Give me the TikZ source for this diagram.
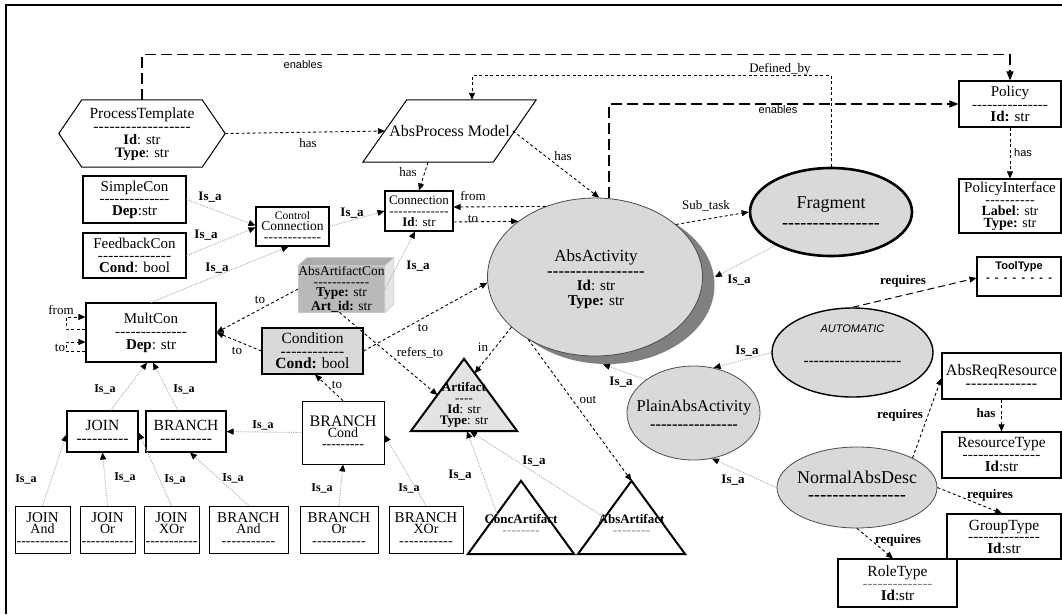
\documentclass[tikz,border=0pt]{standalone}
\usepackage{fontspec}
\setmainfont{Liberation Serif}
\setsansfont{Liberation Sans}
\usetikzlibrary{arrows.meta,shapes.geometric,calc}

% a row of hyphens filling the given width (optional extra spacing per hyphen)
\newcommand\dashrow[2][0pt]{\hbox to #2{\xleaders\hbox{\kern#1-\kern#1}\hfill}}
\newcommand\fs[2]{\fontsize{#1}{#2}\selectfont}

\tikzset{
  box/.style={draw, line width=1.1pt, fill=white, inner sep=0pt, align=center, font=\fs{15}{12.5}},
  ell/.style={ellipse, draw, fill=gray!30, inner sep=0pt},
  txt/.style={inner sep=0pt, align=center},
  arr/.style={-{Triangle[length=7pt,width=6pt]}},
  isa/.style={draw=gray!60, line width=0.9pt, dash pattern=on 1.2pt off 1.2pt,
              -{Triangle[length=7pt,width=6pt,color=black]}},
  sdash/.style={line width=0.9pt, dash pattern=on 3pt off 2.5pt, arr},
  mdash/.style={line width=1pt, dash pattern=on 7pt off 4pt, arr},
  ldash/.style={line width=1.3pt, dash pattern=on 11pt off 5pt, -{Triangle[length=9pt,width=7pt]}},
  lab/.style={inner sep=1pt, font=\fs{13}{13}},
  blab/.style={inner sep=1pt, font=\bfseries\fs{13}{13}},
  sblab/.style={inner sep=1pt, font=\bfseries\fs{12}{12}},
  slab/.style={inner sep=1pt, font=\sffamily\fs{11}{11}},
}

\begin{document}
\begin{tikzpicture}[x=1pt,y=-1pt]
\useasboundingbox (0,0) rectangle (1062,614);
\fill[white] (0,0) rectangle (1062,614);
\draw[line width=2.5pt] (6,614) -- (6,5) -- (1062,5);

% ---------- ProcessTemplate (hexagon) and AbsProcess Model (parallelogram)
\node[txt, minimum width=166pt, minimum height=67pt, font=\fs{14.5}{13}] (pt) at (142,134.5)
  {\fs{15.5}{14}ProcessTemplate\\ \fs{15.5}{14}\dashrow{98pt}\\ \textbf{Id}: str\\ \textbf{Type}: str};
\draw[line width=1pt] ([xshift=23pt,yshift=1pt]pt.north west) -- ([xshift=-23pt,yshift=1pt]pt.north east)
  -- ([yshift=1pt]pt.east) -- ([xshift=-23pt,yshift=1pt]pt.south east)
  -- ([xshift=23pt,yshift=1pt]pt.south west) -- ([yshift=1pt]pt.west) -- cycle;

\node[txt, minimum width=173pt, minimum height=62pt, font=\fs{16}{16}] (apm) at (449.5,131) {AbsProcess Model};
\draw[line width=1pt] ([xshift=44pt]apm.north west) -- (apm.north east)
  -- ([xshift=-43pt]apm.south east) -- (apm.south west) -- cycle;

% ---------- right column
\node[box, minimum width=102pt, minimum height=46pt] (policy) at (1010,104)
  {Policy\\ \dashrow{76pt}\\ \textbf{Id:} str};
\node[box, minimum width=102pt, minimum height=54pt, font=\fs{14}{11.5}] (pint) at (1010,206)
  {\fs{15}{11}PolicyInterface\\ \dashrow{50pt}\\ \textbf{Label}: str\\ \textbf{Type:} str};
\node[box, minimum width=84pt, minimum height=39pt] (tool) at (1019,276.5) {};
\node[txt, font=\sffamily\bfseries\fs{11}{11}] (toolt) at (1019,272) {ToolType\\[1pt] \dashrow[2.2pt]{72pt}};
\node[box, minimum width=119pt, minimum height=46pt, font=\fs{16}{13}] (areq) at (1001.5,376)
  {AbsReqResource\\ \dashrow{72pt}};
\node[box, minimum width=119pt, minimum height=46pt, font=\fs{15}{12}] (rtype) at (1001.5,455)
  {\fs{15.5}{12}ResourceType\\ \dashrow{78pt}\\ \textbf{Id}:str};
\node[box, minimum width=114pt, minimum height=45pt, font=\fs{15}{11.5}] (gtype) at (1004,536.5)
  {\fs{15.5}{11.5}GroupType\\ \dashrow{72pt}\\ \textbf{Id}:str};
\node[box, minimum width=119pt, minimum height=48pt, font=\fs{15}{12}] (role) at (897.5,583)
  {\fs{15.5}{12}RoleType\\ {\color{gray}\dashrow{70pt}}\\ \textbf{Id}:str};

% ---------- ellipses
\node[ell, line width=2.6pt, minimum width=162pt, minimum height=88pt] (frag) at (831,212) {};
\node[txt, font=\fs{18}{20}] (fragt) at (831,213) {Fragment\\ \textbf{\dashrow{98pt}}};

\node[ell, draw=none, fill=black!50, minimum width=215pt, minimum height=158pt] (aash) at (607,285) {};
\node[ell, draw=gray!60!black, line width=0.8pt, minimum width=215pt, minimum height=158pt] (aa) at (595,277) {};
\node[txt, font=\fs{15}{14.5}] (aat) at (596,279)
  {\fs{17}{16}AbsActivity\\ \fs{17}{16}\textbf{\dashrow{98pt}}\\ \textbf{Id}: str\\ \textbf{Type:} str};

\node[ell, line width=1.4pt, minimum width=161pt, minimum height=89pt] (auto) at (852.5,352.5) {};
\node[txt, font=\bfseries\fs{15}{15}] (autot) at (852.5,345)
  {\sffamily\mdseries\itshape\fs{11}{11}AUTOMATIC\\[18pt] \dashrow{98pt}};

\node[ell, draw=gray!60!black, line width=0.8pt, minimum width=133pt, minimum height=94pt] (plain) at (693.5,413) {};
\node[txt, font=\fs{16.5}{18}] (plaint) at (694,415) {PlainAbsActivity\\ \textbf{\dashrow{88pt}}};

\node[ell, draw=gray!60!black, line width=0.8pt, minimum width=160pt, minimum height=81pt] (nad) at (857,487.5) {};
\node[txt, font=\fs{18}{17}] (nadt) at (857,486) {NormalAbsDesc\\ \textbf{\dashrow{98pt}}};

% ---------- connection classes
\node[box, minimum width=68pt, minimum height=40pt, font=\fs{13}{11}] (conn) at (419,211)
  {Connection\\ \dashrow{60pt}\\ \textbf{Id}: str};
\node[box, minimum width=73pt, minimum height=39pt, font=\fs{13.5}{11}] (ctrl) at (292.5,226.5)
  {\fs{11.5}{9}Control\\ Connection\\ \dashrow{58pt}};
\node[box, minimum width=103pt, minimum height=47pt, font=\fs{15}{12}] (simple) at (134.5,199.5)
  {SimpleCon\\ \dashrow{70pt}\\ \textbf{Dep}:str};
\node[box, minimum width=103pt, minimum height=45pt, font=\fs{15}{12}] (feedback) at (134.5,255.5)
  {FeedbackCon\\ \dashrow{74pt}\\ \textbf{Cond}: bool};
\node[box, minimum width=130pt, minimum height=59pt, font=\fs{15}{13}] (multcon) at (151,332.5)
  {MultCon\\ \dashrow{72pt}\\ \textbf{Dep}: str};
\node[box, fill=gray!30, minimum width=101pt, minimum height=46pt, font=\fs{15.5}{12.5}] (cond) at (312.5,351)
  {Condition\\ \dashrow{64pt}\\ \textbf{Cond:} bool};

% AbsArtifactCon as a 3-D block
\node[box, draw=gray!45, line width=0.6pt, fill=gray!55, minimum width=85pt, minimum height=46pt,
      font=\fs{13.5}{10.8}] (aac) at (341.5,289)
  {AbsArtifactCon\\ \dashrow{56pt}\\ \textbf{Type:} str\\ \textbf{Art\_id:} str};
\draw[draw=gray!45, line width=0.6pt, fill=gray!65] (aac.north west) -- ++(9,-8)
  -- ([xshift=9pt,yshift=8pt]aac.north east) -- (aac.north east) -- cycle;
\draw[draw=gray!45, line width=0.6pt, fill=gray!20] (aac.north east) -- ++(9,-8)
  -- ([xshift=9pt,yshift=8pt]aac.south east) -- (aac.south east) -- cycle;

% ---------- JOIN / BRANCH hierarchy
\node[box, minimum width=71pt, minimum height=41pt, font=\fs{15.5}{13}] (join) at (102.5,431.5) {JOIN\\ \dashrow{52pt}};
\node[box, minimum width=80pt, minimum height=41pt, font=\fs{15.5}{13}] (branch) at (186,431.5) {BRANCH\\ \dashrow{52pt}};
\node[box, line width=0.8pt, minimum width=82pt, minimum height=63pt, font=\fs{14}{11}] (bcond) at (343,432.5)
  {\fs{16}{12}BRANCH\\ Cond\\ \dashrow{42pt}};

\tikzset{leaf/.style={box, line width=0.9pt, minimum height=47pt, font=\fs{14}{11}}}
\node[leaf, minimum width=55pt] (jand) at (42.5,529.5) {\fs{15}{12}JOIN\\ And\\[1pt] \dashrow{52pt}};
\node[leaf, minimum width=55pt] (jor) at (107.5,529.5) {\fs{15}{12}JOIN\\ Or\\[1pt] \dashrow{52pt}};
\node[leaf, minimum width=55pt] (jxor) at (171.5,529.5) {\fs{15}{12}JOIN\\ XOr\\[1pt] \dashrow{52pt}};
\node[leaf, minimum width=79pt] (band) at (248.5,529.5) {\fs{15}{12}BRANCH\\ And\\[1pt] \dashrow{54pt}};
\node[leaf, minimum width=78pt] (bor) at (339,529.5) {\fs{15}{12}BRANCH\\ Or\\[1pt] \dashrow{54pt}};
\node[leaf, minimum width=74pt] (bxor) at (426,529.5) {\fs{15}{12}BRANCH\\ XOr\\[1pt] \dashrow{54pt}};

% ---------- artifacts (triangles)
\node[txt, minimum width=106pt, minimum height=72pt] (art) at (464,395) {};
\draw[line width=2pt, fill=gray!22] (art.south west) -- (art.north) -- (art.south east) -- cycle;
\node[txt, font=\fs{13}{11}] (artt) at (464,405)
  {\textbf{Artifact}\\ \dashrow{18pt}\\ \textbf{Id}: str\\ \textbf{Type}: str};

\node[txt, minimum width=106pt, minimum height=73pt] (conc) at (521,517.5) {};
\draw[line width=2pt] (conc.south west) -- (conc.north) -- (conc.south east) -- cycle;
\node[txt, font=\fs{13}{11}] (conct) at (521,524) {\textbf{ConcArtifact}\\ {\color{gray}\dashrow{38pt}}};

\node[txt, minimum width=107pt, minimum height=73pt] (abart) at (631.5,517.5) {};
\draw[line width=2pt] (abart.south west) -- (abart.north) -- (abart.south east) -- cycle;
\node[txt, font=\fs{13}{11}] (abartt) at (631.5,524) {\textbf{AbsArtifact}\\ {\color{gray}\dashrow{38pt}}};

% ---------- long "enables" and "Defined_by" links
\draw[ldash] (pt.north) ++(0,-1) -- ++(0,-45) -| (policy.north);
\node[slab] (l1) at (303,65) {enables};
\draw[ldash] (aa.80) |- (policy.west);
\node[slab] (l2) at (778,110) {enables};
\draw[sdash] (frag.north) -- ++(0,-91) -| ([xshift=22.5pt]apm.north);
\node[lab] (l3) at (780,69) {Defined\_by};
\draw[sdash] (policy.south) -- (pint.north);
\node[slab] (l4) at (1023,153) {has};

% ---------- process model links
\draw[sdash] ([yshift=1pt]pt.east) -- ([xshift=22pt]apm.west);
\node[lab] (l5) at (308,143) {has};
\draw[sdash] ([xshift=-21.5pt]apm.south) -- (conn.north);
\node[lab] (l6) at (408,172) {has};
\draw[sdash] ([xshift=63.5pt]apm.center) -- (aa.87);
\node[lab] (l7) at (563,156) {has};
\draw[sdash] (aa.125) -- ([yshift=4pt]conn.east);
\node[lab] (l8) at (473,196) {from};
\draw[sdash] ([yshift=-11pt]conn.east) -- (aa.144);
\node[lab] (l9) at (473,219) {to};

% ---------- connection hierarchy
\draw[isa] (ctrl.east) -- (conn.west);
\node[blab] (l10) at (352,213) {Is\_a};
\draw[isa] (simple.east) -- ([yshift=1pt]ctrl.west);
\node[blab] (l11) at (210,197) {Is\_a};
\draw[isa] (feedback.east) -- ([yshift=-1pt]ctrl.west);
\node[blab] (l12) at (206,235) {Is\_a};
\draw[isa] (multcon.north) -- ([xshift=-4pt]ctrl.south);
\node[blab] (l13) at (217,268) {Is\_a};
\draw[isa] (aac.east) -- ([xshift=-4pt]conn.south);
\node[blab] (l14) at (418,266) {Is\_a};

\draw[sdash] (aac.west) -- (multcon.east);
\node[lab] (l15) at (260,300) {to};
\draw[sdash] (cond.west) -- (multcon.east);
\node[lab] (l16) at (237,351) {to};
\draw[sdash] (cond.east) -- (aa.183);
\node[lab] (l17) at (423,328) {to};
\draw[sdash] ([xshift=-2pt]aac.south) -- ($(art.south west)!0.5!(art.north)$);
\node[lab] (l18) at (420,353) {refers\_to};

% MultCon self loops
\draw[sdash] ([yshift=3.5pt]multcon.west) -- ++(-19,0) -- ++(0,-12) -- ([yshift=15.5pt]multcon.west);
\node[lab] (l19) at (61,310) {from};
\draw[sdash] ([yshift=-18.5pt]multcon.west) -- ++(-19,0) -- ++(0,-9) -- ([yshift=-9.5pt]multcon.west);
\node[lab] (l20) at (60,348) {to};

% ---------- activity links
\draw[sdash] (aa.211) -- ($(art.north)!0.2!(art.south east)$);
\node[lab] (l21) at (483,347) {in};
\draw[sdash] (aa.223) -- (abart.north);
\node[lab] (l22) at (588,400) {out};
\draw[sdash] (aa.33) -- (frag.west);
\node[lab] (l23) at (706,206) {Sub\_task};
\draw[isa] (frag.211) -- ([xshift=12pt]aa.east);
\node[blab] (l24) at (739,280) {Is\_a};

\draw[mdash] (auto.north) -- ([yshift=-1.5pt]tool.west);
\node[blab] (l25) at (903,281) {requires};
\draw[isa] (auto.west) -- (plain.66);
\node[blab] (l26) at (747,351) {Is\_a};
\draw[isa] (plain.145) -- ([xshift=8pt,yshift=-8pt]aa.south);
\node[blab] (l27) at (621,382) {Is\_a};
\draw[isa] (nad.west) -- (plain.-68);
\node[blab] (l28) at (733,480) {Is\_a};

\draw[sdash] (nad.28) -- ([yshift=-2pt]areq.west);
\node[blab] (l29) at (900,415) {requires};
\draw[sdash] (areq.south) -- (rtype.north);
\node[blab] (l30) at (986,413) {has};
\draw[sdash] (nad.east) -- ([xshift=-2pt]gtype.north);
\node[blab] (l31) at (990,495) {requires};
\draw[sdash] (nad.south) -- ([xshift=-4.5pt]role.north);
\node[blab] (l32) at (898,540) {requires};

% ---------- JOIN / BRANCH links
\draw[sdash] (bcond.north) -- ([xshift=2.5pt]cond.south);
\node[lab] (l33) at (337,385) {to};
\draw[isa] (bcond.west) -- (branch.east);
\node[sblab] (l34) at (263,425) {Is\_a};
\draw[isa] ([xshift=8pt]join.north) -- ([xshift=-4pt]multcon.south);
\node[sblab] (l35) at (105,389) {Is\_a};
\draw[isa] ([xshift=-8pt]branch.north) -- ([xshift=2pt]multcon.south);
\node[sblab] (l36) at (184,389) {Is\_a};
\draw[isa] (jand.north) -- ([yshift=-3pt]join.west);
\node[sblab] (l37) at (26,479) {Is\_a};
\draw[isa] (jor.north) -- (join.south);
\node[sblab] (l38) at (125,477) {Is\_a};
\draw[isa] (jxor.north) -- ([yshift=-1pt]join.east);
\node[sblab] (l39) at (175,479) {Is\_a};
\draw[isa] (band.north) -- ([xshift=4pt]branch.south);
\node[sblab] (l40) at (233,478) {Is\_a};
\draw[isa] (bor.north) -- (bcond.south);
\node[sblab] (l41) at (322,488) {Is\_a};
\draw[isa] (bxor.north) -- ([yshift=-2.5pt]bcond.east);
\node[sblab] (l42) at (409,488) {Is\_a};

% ---------- artifact hierarchy
\draw[isa] ($(conc.north)!0.45!(conc.south west)$) -- ([xshift=3pt]art.south);
\node[blab] (l43) at (460,475) {Is\_a};
\draw[isa] ($(abart.north)!0.5!(abart.south west)$) -- ([xshift=6pt]art.south);
\node[blab] (l44) at (534,461) {Is\_a};
\end{tikzpicture}
\end{document}
